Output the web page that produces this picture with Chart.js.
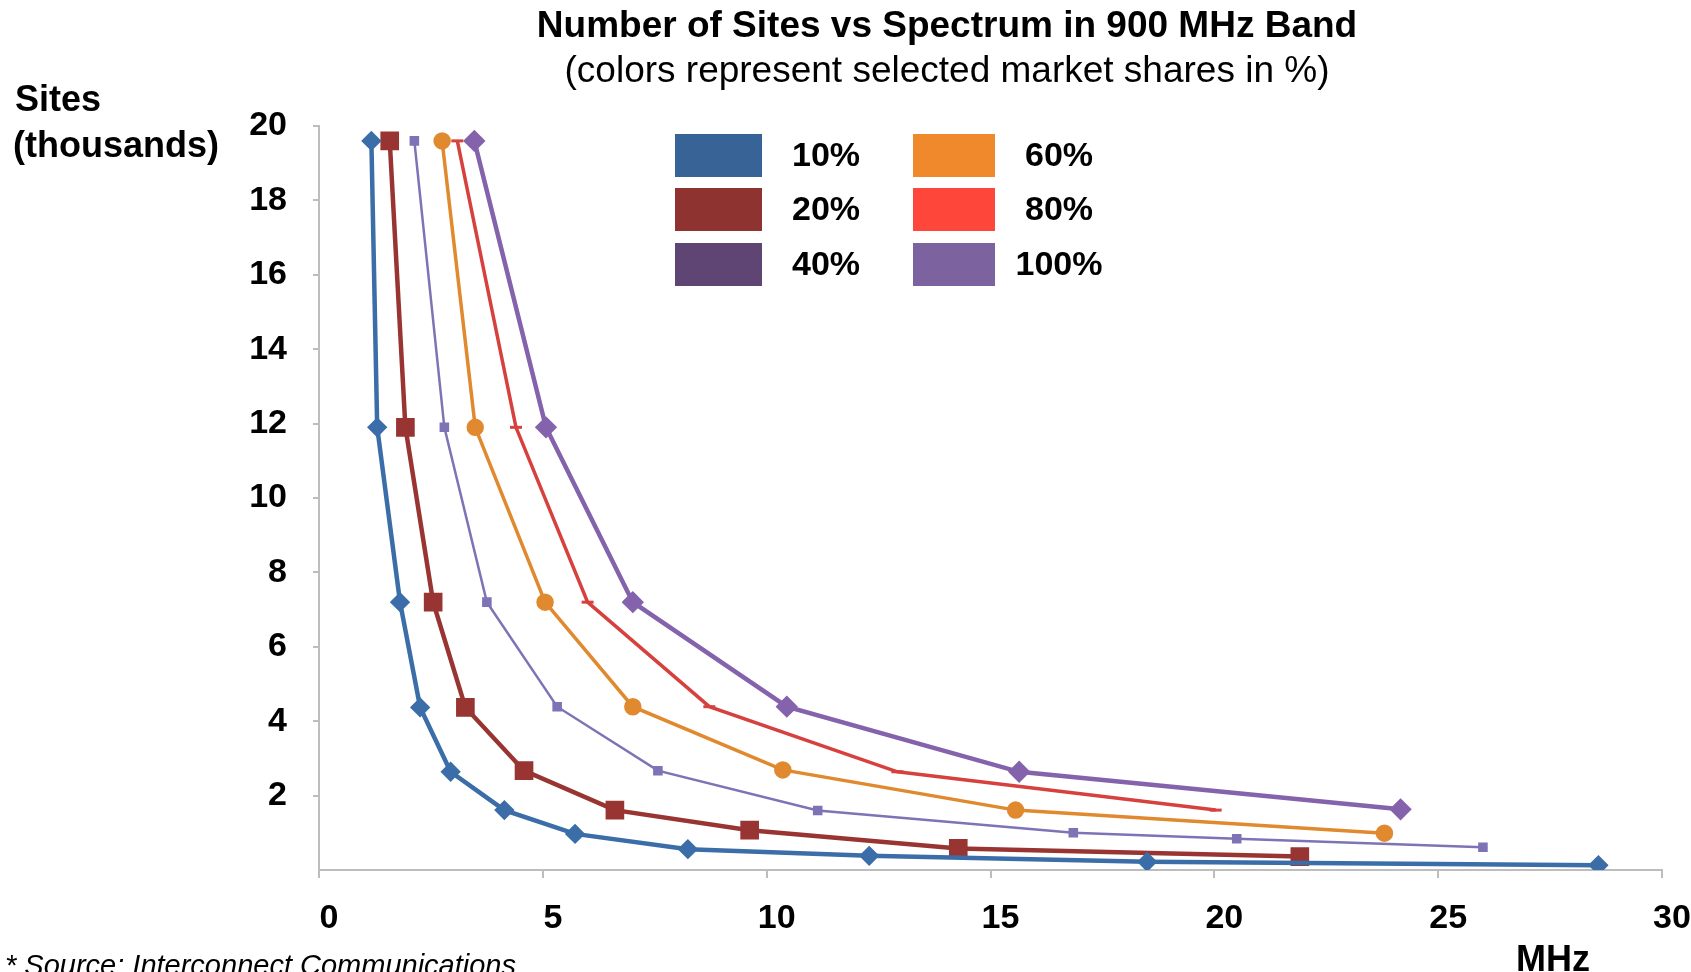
<!DOCTYPE html>
<html>
<head>
<meta charset="utf-8">
<title>Number of Sites vs Spectrum in 900 MHz Band</title>
<script src="https://cdn.jsdelivr.net/npm/chart.js@4.4.1/dist/chart.umd.min.js"></script>
<style>
	html, body { margin: 0; padding: 0; background: #fff; }
</style>
</head>
<body>
<canvas id="sitesChart" width="1691" height="972"></canvas>
<script>
// market shares, one curve each
const shares = ["10%", "20%", "40%", "60%", "80%", "100%"];

// spectrum (MHz) and sites (thousands)
const mhz10 = [1.17, 1.30, 1.81, 2.26, 2.94, 4.14, 5.72, 8.24, 12.29, 18.5, 28.58];
const sites10 = [19.6, 11.9, 7.2, 4.37, 2.64, 1.61, 0.97, 0.56, 0.38, 0.22, 0.13];

const mhz20 = [1.58, 1.93, 2.55, 3.27, 4.58, 6.61, 9.62, 14.28, 21.91];
const sites20 = [19.6, 11.9, 7.2, 4.37, 2.67, 1.61, 1.07, 0.58, 0.36];

const mhz40 = [2.13, 2.80, 3.75, 5.32, 7.57, 11.14, 16.85, 20.5, 26.0];
const sites40 = [19.6, 11.9, 7.2, 4.39, 2.67, 1.6, 1.0, 0.84, 0.61];

const mhz60 = [2.75, 3.49, 5.05, 7.01, 10.36, 15.56, 23.8];
const sites60 = [19.6, 11.9, 7.2, 4.39, 2.69, 1.61, 0.99];

const mhz80 = [3.09, 4.4, 6.0, 8.72, 12.92, 20.03];
const sites80 = [19.6, 11.9, 7.2, 4.39, 2.64, 1.61];

const mhz100 = [3.47, 5.07, 7.01, 10.45, 15.64, 24.16];
const sites100 = [19.6, 11.9, 7.2, 4.39, 2.64, 1.63];

// axis ticks
const xTicks = [0, 5, 10, 15, 20, 25, 30];
const yTicks = [2, 4, 6, 8, 10, 12, 14, 16, 18, 20];

const FONT = '"Liberation Sans", Arial, sans-serif';

function toPoints(xs, ys) {
	let pts = [];
	for (let i = 0; i < xs.length; i++) {
		pts.push({ x: xs[i], y: ys[i] });
	}
	return pts;
}

// line colours, legend box colours
const lineColors = ["#3b6ea8", "#983532", "#7d73b5", "#e0892f", "#d6413e", "#8463ac"];
const boxColors = ["#386397", "#8f3330", "#5e4574", "#f0892b", "#fe463b", "#7d62a0"];

const datasets = [
	{ label: shares[0], data: toPoints(mhz10, sites10), borderColor: lineColors[0], backgroundColor: lineColors[0],
		borderWidth: 4.5, pointStyle: "rectRot", pointRadius: 7 },
	{ label: shares[1], data: toPoints(mhz20, sites20), borderColor: lineColors[1], backgroundColor: lineColors[1],
		borderWidth: 4.5, pointStyle: "rect", pointRadius: 10 },
	{ label: shares[2], data: toPoints(mhz40, sites40), borderColor: lineColors[2], backgroundColor: lineColors[2],
		borderWidth: 2.5, pointStyle: "rect", pointRadius: 5 },
	{ label: shares[3], data: toPoints(mhz60, sites60), borderColor: lineColors[3], backgroundColor: lineColors[3],
		borderWidth: 3.5, pointStyle: "circle", pointRadius: 7 },
	{ label: shares[4], data: toPoints(mhz80, sites80), borderColor: lineColors[4], backgroundColor: lineColors[4],
		borderWidth: 3.5, pointStyle: "line", pointRadius: 6, pointBorderWidth: 3 },
	{ label: shares[5], data: toPoints(mhz100, sites100), borderColor: lineColors[5], backgroundColor: lineColors[5],
		borderWidth: 4.5, pointStyle: "rectRot", pointRadius: 8 },
];

// titles, corner labels, legend
const textPlugin = {
	id: "textPlugin",
	afterDraw(chart) {
		const ctx = chart.ctx;
		ctx.save();
		ctx.fillStyle = "#000";
		ctx.textBaseline = "middle";

		ctx.textAlign = "center";
		ctx.font = "bold 37px " + FONT;
		ctx.fillText("Number of Sites vs Spectrum in 900 MHz Band", 947, 27);
		ctx.font = "37px " + FONT;
		ctx.fillText("(colors represent selected market shares in %)", 947, 72);

		ctx.textAlign = "left";
		ctx.font = "bold 36px " + FONT;
		ctx.fillText("Sites", 15, 101);
		ctx.fillText("(thousands)", 13, 147);

		ctx.textBaseline = "alphabetic";
		ctx.textAlign = "center";
		ctx.fillText("MHz", 1553, 971);

		ctx.textAlign = "left";
		ctx.font = "italic 29px " + FONT;
		ctx.fillText("* Source: Interconnect Communications", 5, 975);

		// legend: two columns of three
		const cols = [{ box: 675, w: 87, text: 826 }, { box: 913, w: 82, text: 1059 }];
		const rows = [134, 188, 243];
		ctx.font = "bold 34px " + FONT;
		ctx.textBaseline = "middle";
		ctx.textAlign = "center";
		chart.data.datasets.forEach((ds, i) => {
			const c = cols[Math.floor(i / 3)];
			const r = rows[i % 3];
			ctx.fillStyle = boxColors[i];
			ctx.fillRect(c.box, r, c.w, 43);
			ctx.fillStyle = "#000";
			ctx.fillText(ds.label, c.text, r + 23);
		});
		ctx.restore();
	},
};

const ctx = document.getElementById("sitesChart");

new Chart(ctx, {
	type: "scatter",
	data: { datasets: datasets },
	options: {
		responsive: false,
		animation: false,
		showLine: true,
		layout: { padding: { left: 219, top: 126, right: 29, bottom: 32 } },
		plugins: {
			legend: { display: false },
			title: { display: false },
			tooltip: { enabled: false },
		},
		scales: {
			x: {
				type: "linear",
				min: 0,
				max: 30,
				afterFit(scale) {
					scale.height = 70;
					scale.paddingLeft = 0;
					scale.paddingRight = 0;
				},
				afterBuildTicks(scale) { scale.ticks = xTicks.map(v => ({ value: v })); },
				border: { display: true, color: "#bdbdbd", width: 2 },
				grid: { drawOnChartArea: false, drawTicks: true, tickLength: 8, color: "#bdbdbd", lineWidth: 2 },
				ticks: { color: "#000", padding: 20, labelOffset: 10, maxRotation: 0,
					font: { family: FONT, size: 34, weight: "bold" } },
			},
			y: {
				type: "linear",
				min: 0,
				max: 20,
				afterFit(scale) {
					scale.width = 100;
					scale.paddingTop = 0;
					scale.paddingBottom = 0;
				},
				afterBuildTicks(scale) { scale.ticks = yTicks.map(v => ({ value: v })); },
				border: { display: true, color: "#bdbdbd", width: 2 },
				grid: { drawOnChartArea: false, drawTicks: true, tickLength: 6, color: "#bdbdbd", lineWidth: 2 },
				ticks: { color: "#000", padding: 26,
					font: { family: FONT, size: 34, weight: "bold" } },
			},
		},
	},
	plugins: [textPlugin],
});
</script>
</body>
</html>
